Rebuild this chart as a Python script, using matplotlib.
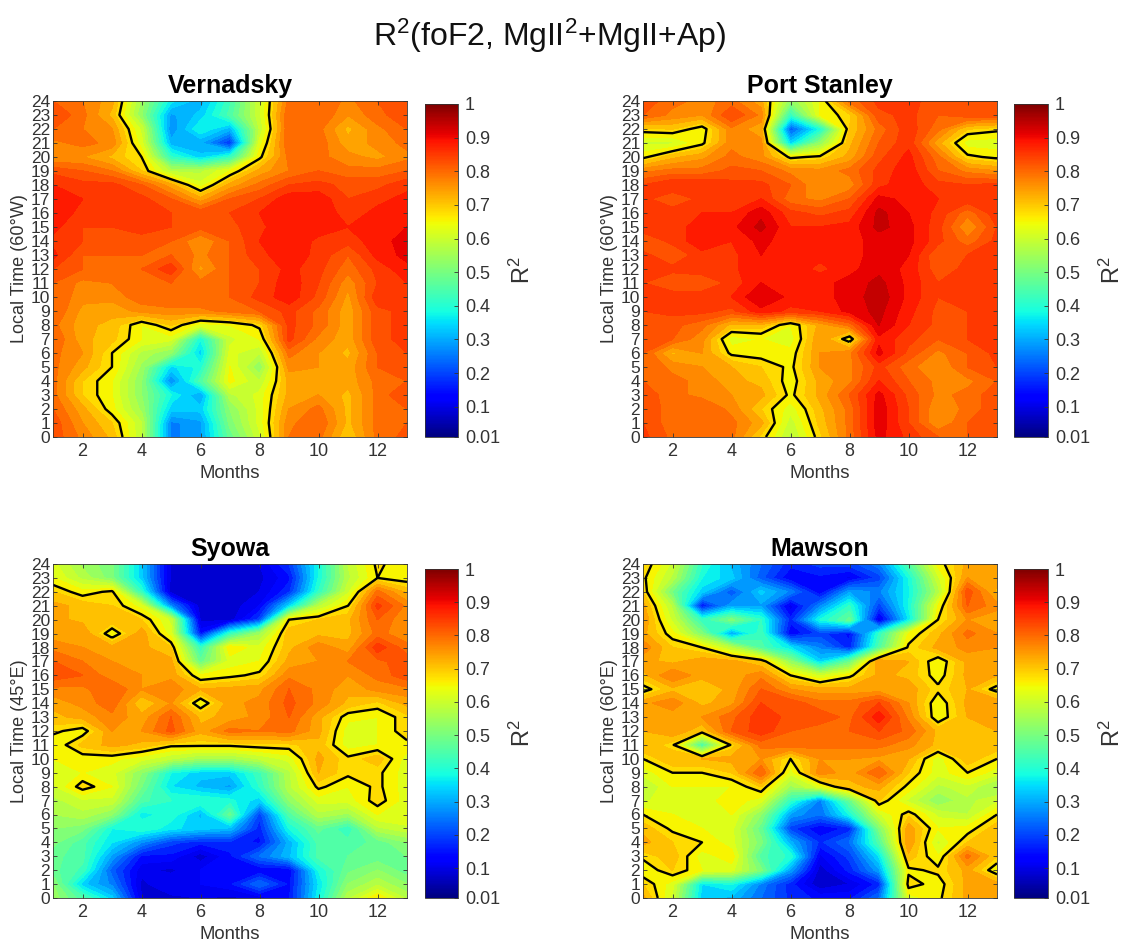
import numpy as np
import matplotlib
matplotlib.use("Agg")
import matplotlib.pyplot as plt
from matplotlib.cm import ScalarMappable
from matplotlib.colors import Normalize

plt.rcParams['font.family'] = ['Liberation Sans', 'DejaVu Sans']
plt.rcParams['mathtext.fontset'] = 'custom'
plt.rcParams['mathtext.rm'] = 'Liberation Sans'
plt.rcParams['mathtext.default'] = 'regular'

months = list(range(1, 14))
hours = list(range(0, 25))
month_ticks = [2, 4, 6, 8, 10, 12]
cbar_ticks = [0.01, 0.1, 0.2, 0.3, 0.4, 0.5, 0.6, 0.7, 0.8, 0.9, 1]
cbar_labels = ['0.01', '0.1', '0.2', '0.3', '0.4', '0.5', '0.6', '0.7', '0.8', '0.9', '1']

# rows are hours 0..24, columns are months 1..13
vernadsky = [
    [.82, .76, .70, .56, .22, .25, .45, .58, .77, .78, .68, .78, .81],
    [.82, .74, .68, .56, .22, .25, .48, .60, .76, .80, .70, .78, .80],
    [.80, .72, .63, .52, .30, .30, .50, .60, .74, .78, .70, .78, .80],
    [.78, .68, .62, .50, .35, .25, .55, .60, .72, .74, .70, .78, .83],
    [.78, .68, .62, .50, .22, .42, .63, .56, .72, .72, .72, .78, .80],
    [.78, .72, .65, .52, .31, .36, .62, .50, .75, .74, .72, .80, .83],
    [.78, .74, .65, .55, .50, .30, .60, .56, .78, .74, .70, .80, .83],
    [.80, .72, .69, .62, .60, .35, .58, .62, .84, .76, .72, .82, .84],
    [.78, .72, .70, .62, .68, .60, .62, .66, .84, .79, .72, .82, .84],
    [.80, .73, .72, .75, .76, .76, .78, .80, .84, .79, .72, .82, .84],
    [.80, .75, .75, .79, .80, .80, .80, .84, .88, .82, .73, .85, .86],
    [.80, .76, .77, .80, .80, .78, .80, .83, .88, .83, .75, .83, .86],
    [.83, .80, .80, .80, .85, .73, .80, .83, .87, .84, .78, .84, .88],
    [.87, .80, .80, .80, .80, .76, .80, .85, .88, .85, .80, .87, .90],
    [.85, .83, .82, .82, .80, .74, .80, .86, .89, .85, .84, .88, .90],
    [.87, .83, .83, .84, .83, .81, .82, .85, .89, .88, .86, .87, .89],
    [.88, .85, .85, .84, .83, .82, .83, .86, .89, .89, .84, .87, .89],
    [.88, .86, .86, .84, .80, .72, .80, .83, .88, .88, .83, .85, .87],
    [.86, .84, .84, .80, .72, .60, .72, .78, .83, .84, .82, .82, .85],
    [.82, .80, .77, .68, .55, .55, .62, .72, .77, .80, .78, .78, .80],
    [.74, .74, .70, .65, .38, .30, .38, .64, .78, .78, .75, .73, .76],
    [.76, .78, .76, .60, .27, .26, .13, .60, .80, .79, .72, .75, .78],
    [.80, .77, .74, .58, .23, .35, .27, .56, .80, .78, .70, .76, .80],
    [.83, .78, .70, .50, .25, .30, .42, .58, .80, .80, .74, .79, .82],
    [.80, .77, .72, .52, .33, .27, .40, .58, .78, .80, .76, .80, .82],
]

port_stanley = [
    [.84, .79, .80, .78, .67, .55, .67, .78, .90, .85, .80, .80, .83],
    [.83, .78, .80, .78, .72, .57, .69, .78, .91, .83, .74, .80, .82],
    [.83, .78, .80, .76, .68, .60, .70, .78, .91, .83, .74, .78, .82],
    [.82, .78, .76, .74, .72, .64, .72, .80, .90, .82, .76, .78, .82],
    [.80, .78, .76, .72, .70, .63, .72, .76, .86, .80, .76, .76, .80],
    [.80, .76, .74, .71, .68, .64, .74, .76, .84, .78, .74, .80, .83],
    [.80, .70, .74, .64, .63, .63, .74, .76, .90, .82, .76, .80, .84],
    [.83, .80, .75, .60, .62, .60, .74, .62, .88, .84, .80, .83, .84],
    [.82, .81, .78, .70, .70, .62, .72, .78, .92, .86, .82, .83, .85],
    [.83, .84, .84, .82, .88, .85, .86, .90, .93, .87, .82, .83, .84],
    [.85, .85, .85, .86, .92, .88, .88, .90, .94, .88, .83, .85, .85],
    [.83, .80, .80, .84, .89, .88, .88, .90, .93, .88, .83, .84, .85],
    [.85, .84, .85, .85, .89, .88, .85, .88, .91, .88, .81, .84, .85],
    [.84, .80, .85, .85, .89, .88, .87, .88, .90, .89, .80, .83, .85],
    [.80, .84, .88, .86, .90, .87, .88, .88, .90, .90, .84, .78, .84],
    [.85, .84, .88, .88, .93, .86, .86, .87, .93, .90, .84, .74, .83],
    [.85, .85, .86, .86, .91, .84, .82, .84, .93, .89, .85, .78, .85],
    [.84, .80, .84, .85, .86, .78, .76, .80, .90, .88, .86, .85, .85],
    [.83, .86, .86, .84, .84, .80, .74, .75, .85, .88, .84, .83, .84],
    [.76, .78, .78, .81, .80, .76, .75, .78, .84, .88, .80, .76, .74],
    [.64, .70, .73, .78, .75, .64, .66, .72, .82, .87, .78, .66, .64],
    [.58, .58, .64, .76, .75, .30, .50, .70, .80, .85, .72, .60, .60],
    [.67, .68, .63, .76, .72, .17, .35, .68, .78, .85, .78, .68, .66],
    [.80, .76, .74, .83, .76, .38, .62, .67, .82, .84, .80, .82, .82],
    [.82, .78, .76, .78, .72, .50, .62, .78, .84, .85, .80, .82, .83],
]

syowa = [
    [.52, .42, .30, .05, .04, .05, .04, .06, .10, .34, .55, .65, .55],
    [.50, .30, .22, .04, .08, .08, .10, .20, .10, .32, .50, .55, .50],
    [.45, .40, .18, .06, .04, .08, .10, .08, .08, .35, .46, .50, .45],
    [.45, .42, .25, .10, .10, .03, .10, .20, .28, .42, .44, .45, .47],
    [.48, .42, .32, .23, .15, .12, .13, .10, .27, .42, .42, .45, .50],
    [.50, .48, .35, .38, .33, .30, .28, .12, .35, .45, .38, .55, .58],
    [.53, .55, .50, .33, .37, .28, .45, .15, .42, .55, .52, .62, .62],
    [.55, .58, .58, .42, .38, .38, .36, .30, .50, .60, .60, .67, .60],
    [.58, .67, .62, .47, .32, .28, .25, .38, .55, .66, .62, .66, .60],
    [.62, .62, .60, .50, .35, .30, .30, .40, .55, .71, .66, .66, .60],
    [.62, .63, .63, .60, .56, .52, .52, .56, .60, .72, .66, .70, .60],
    [.62, .69, .72, .70, .66, .66, .66, .67, .67, .70, .60, .62, .64],
    [.66, .63, .74, .74, .81, .72, .78, .77, .78, .72, .60, .62, .67],
    [.70, .72, .76, .72, .80, .70, .72, .75, .80, .72, .63, .62, .67],
    [.72, .75, .79, .68, .74, .62, .73, .75, .81, .76, .70, .67, .72],
    [.76, .76, .80, .74, .76, .71, .72, .73, .80, .76, .72, .75, .76],
    [.82, .80, .75, .74, .73, .62, .64, .66, .76, .75, .74, .78, .82],
    [.80, .77, .74, .74, .72, .45, .60, .62, .72, .74, .77, .79, .82],
    [.76, .74, .72, .72, .68, .38, .645, .60, .70, .76, .72, .85, .78],
    [.72, .74, .62, .73, .60, .10, .38, .52, .70, .70, .70, .78, .75],
    [.72, .70, .70, .68, .58, .04, .03, .15, .65, .68, .70, .80, .74],
    [.72, .70, .68, .60, .22, .03, .03, .08, .30, .55, .65, .84, .76],
    [.68, .63, .66, .38, .03, .03, .03, .05, .13, .38, .58, .78, .70],
    [.62, .55, .48, .30, .04, .03, .03, .04, .10, .35, .55, .65, .63],
    [.60, .52, .48, .30, .04, .03, .05, .05, .14, .35, .56, .66, .62],
]

mawson = [
    [.72, .58, .30, .28, .20, .13, .10, .10, .20, .60, .64, .72, .72],
    [.68, .60, .32, .35, .22, .12, .02, .05, .12, .67, .63, .72, .72],
    [.62, .68, .62, .60, .48, .25, .03, .12, .25, .64, .66, .72, .62],
    [.66, .70, .60, .64, .42, .37, .07, .15, .32, .70, .62, .78, .68],
    [.72, .68, .65, .60, .48, .27, .13, .20, .42, .74, .58, .68, .71],
    [.70, .64, .62, .60, .45, .15, .08, .12, .48, .73, .62, .63, .70],
    [.65, .62, .62, .62, .50, .25, .20, .35, .58, .67, .58, .56, .65],
    [.58, .62, .60, .64, .60, .38, .22, .45, .68, .58, .50, .55, .58],
    [.55, .62, .62, .62, .68, .52, .60, .70, .72, .64, .55, .58, .52],
    [.60, .65, .65, .68, .80, .60, .76, .72, .80, .68, .60, .65, .60],
    [.65, .71, .71, .72, .74, .65, .74, .74, .73, .71, .60, .70, .65],
    [.71, .66, .40, .66, .78, .79, .78, .78, .78, .75, .70, .70, .70],
    [.71, .74, .68, .80, .85, .80, .78, .80, .83, .79, .70, .70, .71],
    [.72, .72, .74, .79, .85, .82, .82, .79, .88, .76, .62, .71, .72],
    [.73, .76, .70, .73, .83, .82, .78, .78, .83, .74, .62, .72, .74],
    [.63, .70, .68, .72, .80, .74, .72, .72, .72, .73, .66, .71, .63],
    [.70, .77, .72, .72, .76, .65, .58, .64, .72, .70, .63, .72, .71],
    [.72, .70, .73, .72, .68, .50, .30, .45, .74, .71, .62, .72, .72],
    [.76, .68, .65, .55, .42, .32, .22, .12, .42, .66, .72, .75, .74],
    [.72, .63, .48, .25, .40, .08, .15, .10, .38, .62, .70, .78, .74],
    [.74, .58, .38, .48, .38, .12, .35, .45, .05, .32, .65, .74, .72],
    [.72, .55, .10, .25, .25, .06, .22, .38, .15, .35, .62, .80, .75],
    [.68, .46, .30, .17, .30, .22, .08, .25, .22, .34, .54, .82, .70],
    [.66, .55, .35, .30, .18, .08, .10, .07, .15, .35, .58, .74, .72],
    [.68, .58, .38, .28, .20, .12, .15, .15, .22, .42, .63, .72, .72],
]

stations = ['Vernadsky', 'Port Stanley', 'Syowa', 'Mawson']
time_labels = ['Local Time (60°W)', 'Local Time (60°W)', 'Local Time (45°E)', 'Local Time (60°E)']
tables = [vernadsky, port_stanley, syowa, mawson]

W, H = 1123, 944
# pixel boxes: left, top, right, bottom
ax_boxes = [(53, 101, 407, 437), (643, 101, 997, 437), (53, 564, 407, 898), (643, 564, 997, 898)]
cb_boxes = [(425, 104, 458, 437), (1014, 104, 1048, 437), (425, 569, 458, 898), (1014, 569, 1048, 898)]
gray = '#333333'


def box(b):
    return [b[0] / W, 1 - b[3] / H, (b[2] - b[0]) / W, (b[3] - b[1]) / H]


# bands every 0.03, one edge falls on the 0.65 line
levels = np.round(0.02 + np.arange(0, 33) * 0.03, 2)

fig = plt.figure(figsize=(W / 100, H / 100), dpi=100)
fig.text(0.489, 0.962, r'R$^2$(foF2, MgII$^2$+MgII+Ap)', ha='center', va='center', fontsize=23, color='#111111')

for i, name in enumerate(stations):
    ax = fig.add_axes(box(ax_boxes[i]))
    z = np.array(tables[i])
    # filled bands read a bit warmer than their values on the colour bar
    cs = ax.contourf(months, hours, z, levels=levels, cmap='jet', norm=Normalize(-0.04, 1.0), extend='min')
    cs.set_edgecolor('face')
    cs.set_linewidth(0.4)
    ax.contour(months, hours, z, levels=[0.65], colors='black', linewidths=1.7)
    ax.set_xlim(1, 13)
    ax.set_ylim(0, 24)
    ax.set_xticks(month_ticks)
    ax.set_yticks(hours)
    ax.tick_params(direction='in', length=3, width=0.6, top=True, right=True, labelsize=13,
                   colors=gray, pad=4)
    ax.tick_params(axis='y', pad=2, labelsize=12.5)
    for s in ax.spines.values():
        s.set_linewidth(0.6)
        s.set_color(gray)
    ax.set_title(name, fontsize=18, fontweight='bold', color='black', pad=6)
    ax.set_xlabel('Months', fontsize=13.3, color=gray, labelpad=4)
    ax.set_ylabel(time_labels[i], fontsize=13, color=gray, labelpad=2)

    cax = fig.add_axes(box(cb_boxes[i]))
    cb = fig.colorbar(ScalarMappable(norm=Normalize(0.01, 1), cmap='jet'), cax=cax)
    cb.set_ticks(cbar_ticks, labels=cbar_labels)
    cb.ax.tick_params(direction='in', length=3, width=0.6, labelsize=13, colors=gray, pad=5)
    cb.outline.set_linewidth(0.6)
    cb.outline.set_edgecolor(gray)
    cb.set_label('R$^2$', fontsize=17, color=gray, labelpad=7)

fig.savefig('out.png', dpi=100)
